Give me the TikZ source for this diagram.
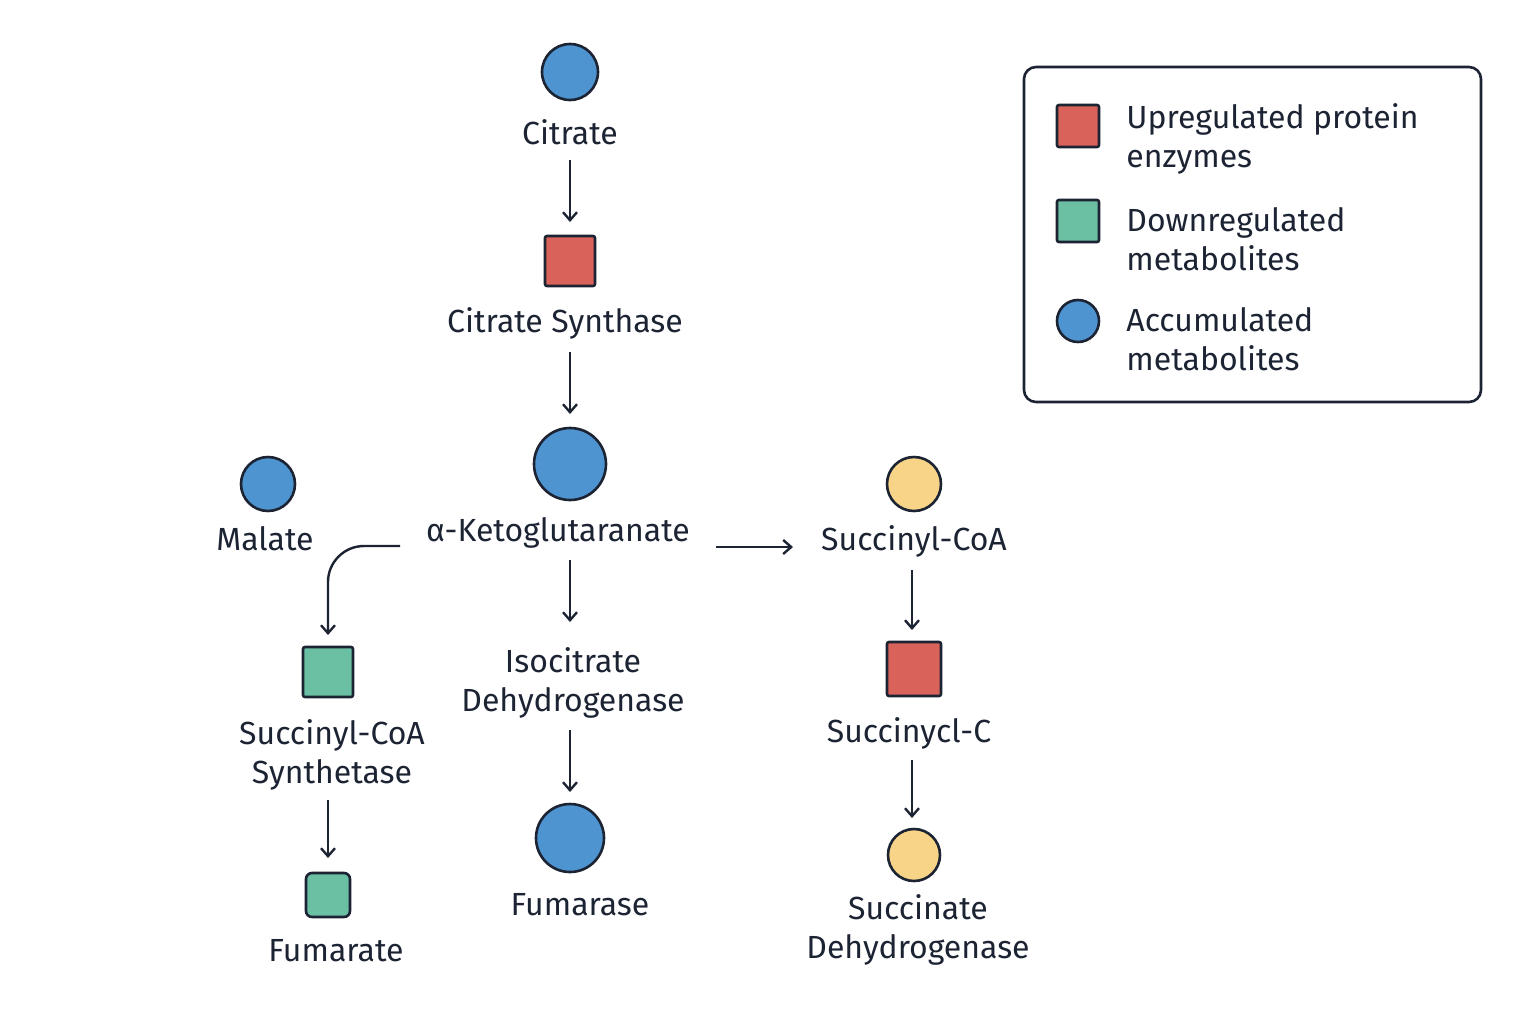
\documentclass[tikz,border=0pt]{standalone}
\usepackage{fontspec}
\setmainfont{Fira Sans}
\usetikzlibrary{arrows.meta}
\definecolor{cred}{HTML}{D9625A}
\definecolor{cgreen}{HTML}{6BBFA3}
\definecolor{cblue}{HTML}{4E94D0}
\definecolor{cyel}{HTML}{F7D488}
\definecolor{ink}{HTML}{1C2333}
\begin{document}
\begin{tikzpicture}[x=0.5pt,y=-0.5pt,
  ol/.style={draw=ink,line width=1.3pt},
  met/.style={ol,circle,inner sep=0pt},
  enz/.style={ol,rectangle,inner sep=0pt,rounded corners=1pt},
  lab/.style={text=ink,font=\fontsize{16}{19.5}\selectfont,align=center,inner sep=1pt},
  arr/.style={draw=ink,line width=1.2pt,-{Straight Barb[length=4pt,width=7pt]}}]
\useasboundingbox (0,0) rectangle (1536,1024);
% main column
\node[met,fill=cblue,minimum size=28pt] (cit) at (570,72) {};
\node[lab] (citl) at (570,132) {Citrate};
\coordinate (a1s) at (570,160); \coordinate (a1e) at (570,222);
\draw[arr] (a1s) -- (a1e);
\node[enz,fill=cred,minimum size=25pt] (cs) at (570,261) {};
\node[lab] (csl) at (565,323) {Citrate Synthase};
\coordinate (a2s) at (570,352); \coordinate (a2e) at (570,414);
\draw[arr] (a2s) -- (a2e);
\node[met,fill=cblue,minimum size=36pt] (akg) at (570,464) {};
\node[lab] (akgl) at (558,533) {α-Ketoglutaranate};
\node[met,fill=cblue,minimum size=27pt] (mal) at (268,484) {};
\node[lab] (mall) at (265,539) {Malate};
\coordinate (a3s) at (400,546); \coordinate (a3e) at (328,635);
\draw[arr,rounded corners=18pt] (a3s) -- (328,546) -- (a3e);
\coordinate (a4s) at (570,560); \coordinate (a4e) at (570,622);
\draw[arr] (a4s) -- (a4e);
\coordinate (a5s) at (716,547); \coordinate (a5e) at (793,547);
\draw[arr] (a5s) -- (a5e);
% right column
\node[met,fill=cyel,minimum size=27pt] (scoa) at (914,484) {};
\node[lab] (scoal) at (914,541) {Succinyl-CoA};
\coordinate (a6s) at (912,570); \coordinate (a6e) at (912,630);
\draw[arr] (a6s) -- (a6e);
\node[enz,fill=cred,minimum size=27pt] (sc) at (914,669) {};
\node[lab] (scl) at (909,733) {Succinycl-C};
\coordinate (a7s) at (912,760); \coordinate (a7e) at (912,818);
\draw[arr] (a7s) -- (a7e);
\node[met,fill=cyel,minimum size=26pt] (suc) at (914,855) {};
\node[lab] (sucl) at (918,930) {Succinate\\Dehydrogenase};
% left column
\node[enz,fill=cgreen,minimum size=25pt] (scs) at (328,672) {};
\node[lab] (scsl) at (332,755) {Succinyl-CoA\\Synthetase};
\coordinate (a8s) at (328,800); \coordinate (a8e) at (328,858);
\draw[arr] (a8s) -- (a8e);
\node[enz,fill=cgreen,minimum size=22pt,rounded corners=3pt] (fum) at (328,895) {};
\node[lab] (fuml) at (336,951) {Fumarate};
% middle lower
\node[lab] (idhl) at (573,683) {Isocitrate\\Dehydrogenase};
\coordinate (a9s) at (570,730); \coordinate (a9e) at (570,792);
\draw[arr] (a9s) -- (a9e);
\node[met,fill=cblue,minimum size=34pt] (fase) at (570,838) {};
\node[lab] (fasel) at (580,905) {Fumarase};
% legend
\node[draw=ink,line width=1.3pt,rounded corners=6pt,minimum width=228.5pt,minimum height=167.5pt,inner sep=0pt] (leg) at (1252.5,234.5) {};
\node[enz,fill=cred,minimum size=21pt] (lr) at (1078,126) {};
\node[lab,align=left,anchor=west] (lrl) at (1124,139) {Upregulated protein\\enzymes};
\node[enz,fill=cgreen,minimum size=21pt] (lg) at (1078,221) {};
\node[lab,align=left,anchor=west] (lgl) at (1124,239) {Downregulated\\metabolites};
\node[met,fill=cblue,minimum size=21pt] (lb) at (1078,321) {};
\node[lab,align=left,anchor=west] (lbl) at (1124,339) {Accumulated\\metabolites};
\end{tikzpicture}
\end{document}
